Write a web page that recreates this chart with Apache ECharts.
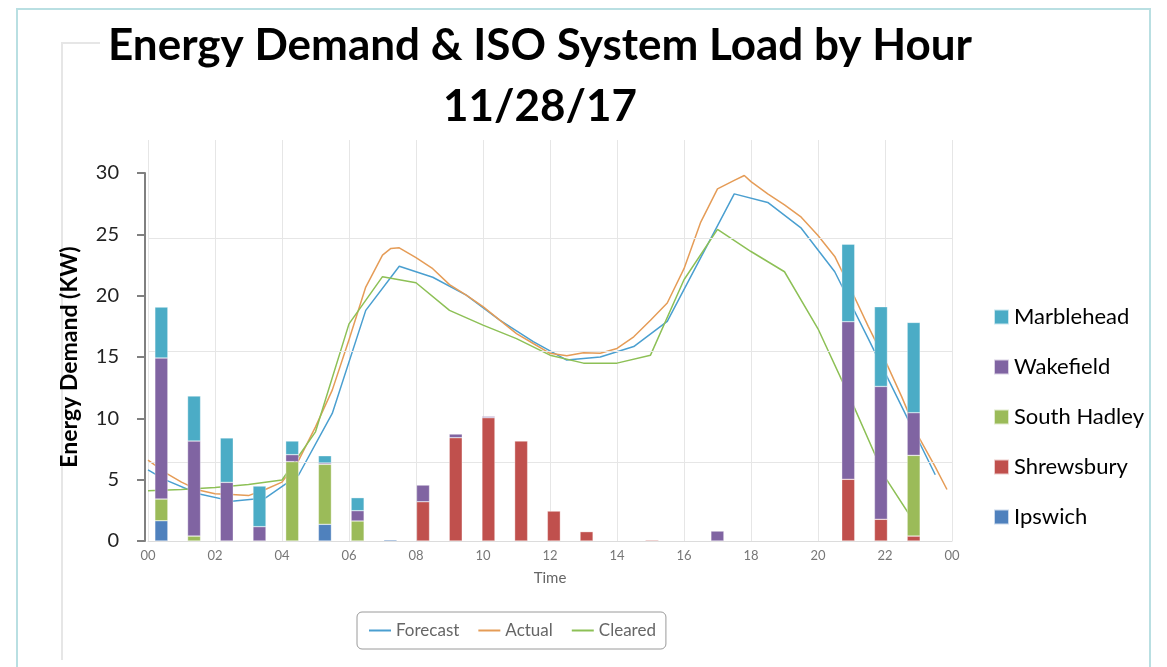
<!DOCTYPE html>
<html>
<head>
<meta charset="utf-8">
<title>Energy Demand & ISO System Load by Hour</title>
<script src="https://cdn.jsdelivr.net/npm/echarts@6/dist/echarts.min.js"></script>
<style>
  html, body { margin: 0; padding: 0; background: #fff; }
  #chart { width: 1167px; height: 667px; }
</style>
</head>
<body>
<div id="chart"></div>
<script>
// hour buckets for the stacked bars
const hours = ['00', '01', '02', '03', '04', '05', '06', '07', '08', '09', '10', '11',
  '12', '13', '14', '15', '16', '17', '18', '19', '20', '21', '22', '23']

// energy demand per town (KW), bottom of the stack first
const ipswich = [1.65, 0, 0, 0, 0, 1.36, 0, 0.1, 0, 0, 0, 0, 0, 0, 0, 0, 0, 0, 0, 0, 0, 0, 0, 0]
const shrewsbury = [0, 0, 0, 0, 0, 0, 0, 0, 3.2, 8.42, 10.05, 8.15, 2.44, 0.76, 0, 0.08, 0, 0, 0, 0, 0, 5.03, 1.77, 0.4]
const southHadley = [1.77, 0.4, 0, 0, 6.47, 4.89, 1.63, 0, 0, 0, 0, 0, 0, 0, 0, 0, 0, 0, 0, 0, 0, 0, 0, 6.58]
const wakefield = [11.5, 7.75, 4.78, 1.17, 0.57, 0.11, 0.84, 0, 1.36, 0.3, 0.11, 0, 0, 0, 0, 0, 0, 0.81, 0, 0, 0, 12.85, 10.83, 3.48]
const marblehead = [4.15, 3.67, 3.62, 3.31, 1.11, 0.59, 1.06, 0, 0, 0, 0, 0, 0, 0, 0, 0, 0, 0, 0, 0, 0, 6.32, 6.5, 7.36]

// ISO system load curves (time in hours)
const forecastHours = [0, 0.5, 1.5, 2.5, 3.5, 4.5, 5.5, 6.5, 7.5, 8.5, 9.5, 10.5, 11.5,
  12.5, 13.5, 14.5, 15.5, 16.5, 17.5, 18.5, 19.5, 20.5, 21.5, 22.5, 23.5]
const forecastLoad = [5.8, 5.0, 3.85, 3.25, 3.5, 5.4, 10.4, 18.8, 22.4, 21.5, 20.05, 18.0, 16.25,
  14.75, 15.0, 15.85, 17.9, 23.1, 28.3, 27.6, 25.5, 21.95, 16.5, 10.95, 5.4]

const actualHours = [0, 0.25, 0.5, 1, 1.5, 2, 2.5, 3, 3.5, 4, 4.5, 5, 5.5, 6, 6.5, 7, 7.25, 7.5,
  8, 8.5, 9, 9.5, 10, 10.5, 11, 11.5, 12, 12.5, 13, 13.5, 14, 14.5, 15, 15.5, 16, 16.5,
  17, 17.5, 17.8, 18, 18.5, 19, 19.5, 20, 20.5, 21, 21.5, 22, 22.5, 23, 23.5, 23.85]
const actualLoad = [6.6, 6.1, 5.6, 4.8, 4.15, 3.85, 3.8, 3.7, 4.2, 4.8, 6.6, 9.3, 12.3, 16.4, 20.7, 23.3, 23.85, 23.9,
  23.1, 22.2, 20.9, 20.05, 19.1, 18.0, 16.9, 16.1, 15.3, 15.1, 15.35, 15.3, 15.7, 16.65, 18.0, 19.4, 22.2, 26.0,
  28.7, 29.4, 29.8, 29.3, 28.3, 27.4, 26.4, 24.9, 23.2, 20.4, 17.5, 14.75, 11.75, 8.5, 6.05, 4.2]

const clearedHours = [0, 1, 2, 3, 4, 5, 6, 7, 8, 9, 10, 11, 12, 13, 14, 15, 16, 17, 18, 19, 20, 21, 22, 23]
const clearedLoad = [4.1, 4.2, 4.37, 4.6, 4.97, 8.9, 17.7, 21.55, 21.05, 18.8, 17.6, 16.5, 15.15, 14.5,
  14.5, 15.15, 21.3, 25.4, 23.6, 21.95, 17.3, 11.4, 5.2, 1.0]

// faint horizontal grid lines of the original plot (KW)
const gridLevels = [6.44, 15.5, 24.7]

const pairs = (xs, ys) => xs.map((x, i) => [x, ys[i]])

const FONT = 'Lato, "Noto Sans", sans-serif'
const KW_MAX = 30
const PX_PER_KW = 368 / KW_MAX // plot height 0..30 is 368px

const chart = echarts.init(document.getElementById('chart'))

const barSeries = [
  {name: 'Ipswich', data: ipswich, color: '#4f81bd'},
  {name: 'Shrewsbury', data: shrewsbury, color: '#c0504d'},
  {name: 'South Hadley', data: southHadley, color: '#9bbb59'},
  {name: 'Wakefield', data: wakefield, color: '#8064a2'},
  {name: 'Marblehead', data: marblehead, color: '#4bacc6'}
].map(s => ({
  name: s.name,
  type: 'bar',
  stack: 'towns',
  xAxisIndex: 1,
  yAxisIndex: 1,
  barWidth: 13,
  // empty hours get no bar at all
  data: s.data.map(v => (v === 0 ? '-' : v)),
  itemStyle: {color: s.color, borderColor: 'rgba(255,255,255,0.7)', borderWidth: 0.5},
  z: 5
}))

const lineStyle = (color) => ({color: color, width: 1.5})

const option = {
  backgroundColor: '#fff',
  animation: false,
  textStyle: {fontFamily: FONT},
  title: {
    text: 'Energy Demand & ISO System Load by Hour\n11/28/17',
    left: 535,
    top: 10,
    textAlign: 'center',
    textStyle: {fontFamily: FONT, fontSize: 44, fontWeight: 'bold', color: '#000', lineHeight: 61}
  },
  graphic: [
    // outer light cyan frame
    {type: 'rect', shape: {x: 17, y: 9, width: 1133, height: 700},
      style: {fill: 'none', stroke: '#b9dfe2', lineWidth: 2}, silent: true},
    // inner grey frame of the original chart
    {type: 'polyline', shape: {points: [[100, 43], [62, 43], [62, 660]]},
      style: {fill: 'none', stroke: '#e6e6e6', lineWidth: 2}, silent: true}
  ],
  legend: [
    {
      data: ['Marblehead', 'Wakefield', 'South Hadley', 'Shrewsbury', 'Ipswich'],
      orient: 'vertical',
      left: 988,
      top: 301,
      itemWidth: 15,
      itemHeight: 15,
      itemGap: 28,
      icon: 'rect',
      textStyle: {fontFamily: FONT, fontSize: 22, color: '#000'}
    },
    {
      data: ['Forecast', 'Actual', 'Cleared'],
      left: 357,
      top: 612,
      padding: [10, 10, 10, 12],
      itemWidth: 22,
      itemHeight: 2,
      itemGap: 19,
      icon: 'rect',
      borderColor: '#9a9a9a',
      borderWidth: 1,
      borderRadius: 5,
      textStyle: {fontFamily: FONT, fontSize: 17, color: '#666'}
    }
  ],
  grid: [
    // line plot area with its own grid lines and time axis
    {left: 148, right: 215, top: 140, bottom: 126},
    // bar plot area with the labelled demand axis
    {left: 145, right: 237, top: 173, bottom: 126}
  ],
  xAxis: [
    {
      gridIndex: 0,
      type: 'value',
      min: 0,
      max: 24,
      interval: 2,
      name: 'Time',
      nameLocation: 'middle',
      nameGap: 30,
      nameTextStyle: {fontFamily: FONT, fontSize: 15, color: '#666'},
      axisLine: {lineStyle: {color: '#dcdcdc'}},
      axisTick: {show: false},
      axisLabel: {
        fontFamily: FONT,
        fontSize: 13,
        color: '#777',
        margin: 8,
        formatter: v => String(v % 24).padStart(2, '0')
      },
      splitLine: {lineStyle: {color: '#e6e6e6'}}
    },
    {
      gridIndex: 1,
      type: 'category',
      data: hours,
      show: false
    }
  ],
  yAxis: [
    {
      gridIndex: 0,
      type: 'value',
      min: 0,
      max: 401 / PX_PER_KW,
      show: false,
      splitLine: {show: false}
    },
    {
      gridIndex: 1,
      type: 'value',
      min: 0,
      max: KW_MAX,
      interval: 5,
      name: 'Energy Demand (KW)',
      nameLocation: 'middle',
      nameGap: 64,
      nameTextStyle: {fontFamily: FONT, fontSize: 23, fontWeight: 'bold', color: '#000'},
      axisLine: {show: true, lineStyle: {color: '#808080', width: 2}},
      axisTick: {show: true, length: 8, lineStyle: {color: '#808080', width: 2}},
      axisLabel: {fontFamily: FONT, fontSize: 20, color: '#222', margin: 26},
      splitLine: {show: false}
    }
  ],
  series: [
    ...barSeries,
    {
      name: 'Forecast',
      type: 'line',
      xAxisIndex: 0,
      yAxisIndex: 0,
      showSymbol: false,
      data: pairs(forecastHours, forecastLoad),
      lineStyle: lineStyle('#4a9fd0'),
      itemStyle: {color: '#4a9fd0'},
      markLine: {
        silent: true,
        symbol: 'none',
        label: {show: false},
        lineStyle: {color: '#e6e6e6', type: 'solid', width: 1},
        data: gridLevels.map(v => ({yAxis: v}))
      },
      z: 3
    },
    {
      name: 'Actual',
      type: 'line',
      xAxisIndex: 0,
      yAxisIndex: 0,
      showSymbol: false,
      data: pairs(actualHours, actualLoad),
      lineStyle: lineStyle('#e59c57'),
      itemStyle: {color: '#e59c57'},
      z: 3
    },
    {
      name: 'Cleared',
      type: 'line',
      xAxisIndex: 0,
      yAxisIndex: 0,
      showSymbol: false,
      data: pairs(clearedHours, clearedLoad),
      lineStyle: lineStyle('#8dc056'),
      itemStyle: {color: '#8dc056'},
      z: 3
    }
  ]
}

chart.setOption(option)
window.onresize = () => {
  chart.resize()
}
</script>
</body>
</html>
